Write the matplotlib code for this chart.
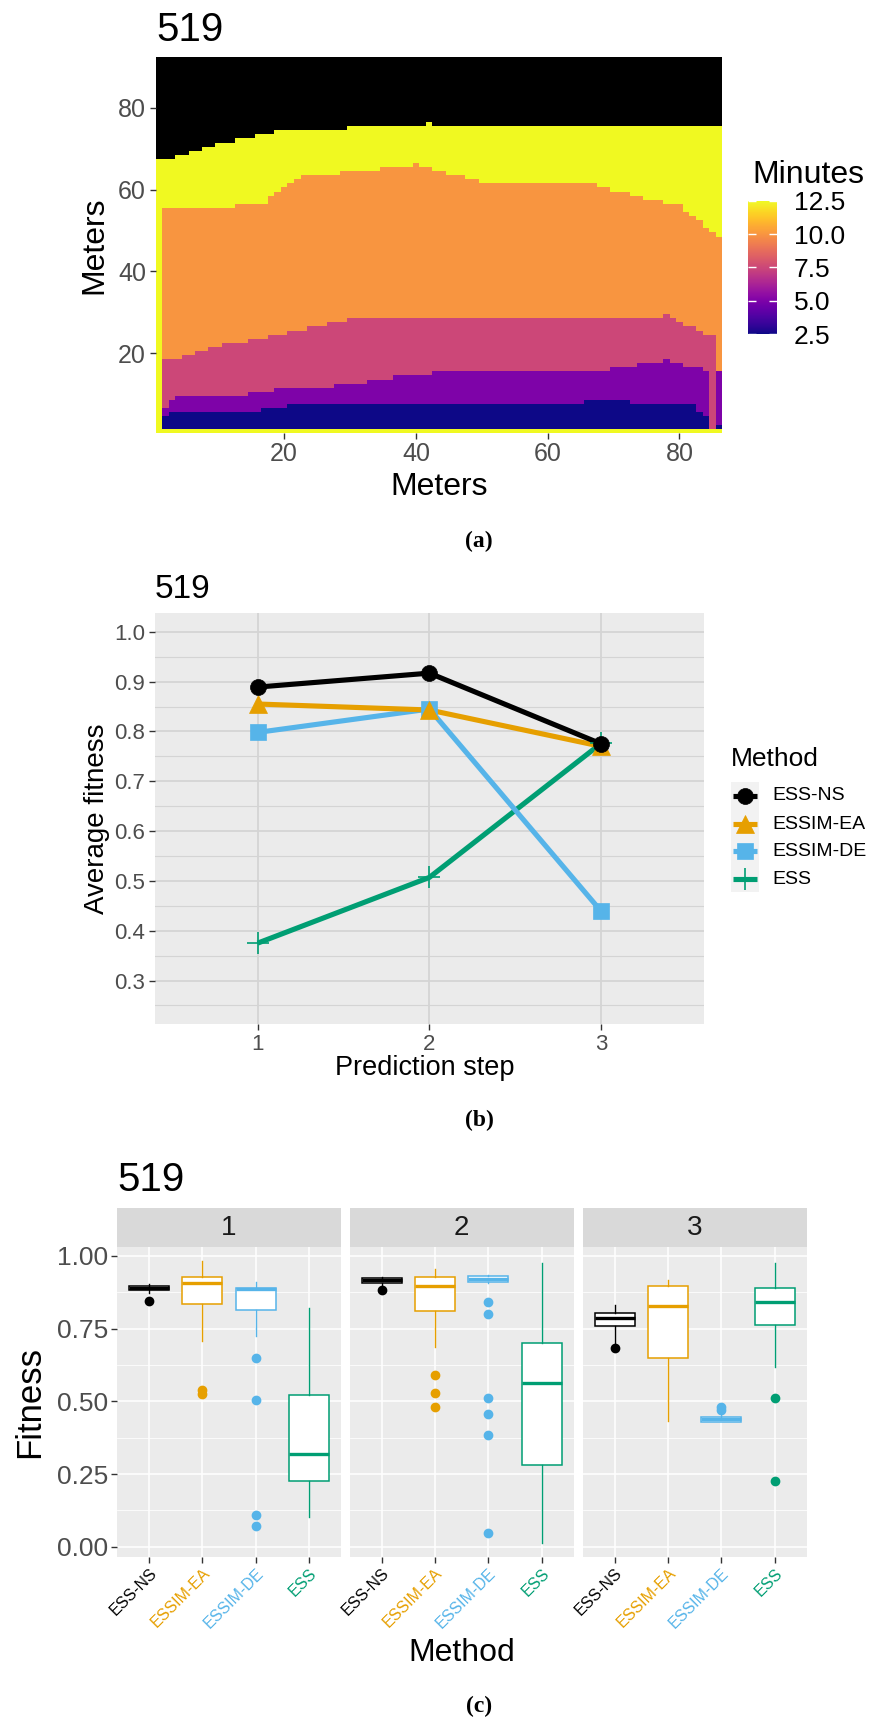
import numpy as np
import matplotlib
matplotlib.use('Agg')
import matplotlib.pyplot as plt
from matplotlib.patches import Rectangle
from matplotlib.cm import ScalarMappable
from matplotlib.colors import Normalize

plt.rcParams['font.family'] = ['Liberation Sans', 'DejaVu Sans']

# ---------------- data: panel (a) heatmap, band tops per column (cols 1..86) ----------------
band_minutes = [2.5, 5.0, 7.5, 10.0, 12.5]
bottom_row_minutes = 12.5
blue_top = [0, 4, 5, 5, 5, 5, 5, 5, 5, 5,
            5, 5, 5, 5, 5, 5, 6, 6, 6, 6,
            7, 7, 7, 7, 7, 7, 7, 7, 7, 7,
            7, 7, 7, 7, 7, 7, 7, 7, 7, 7,
            7, 7, 7, 7, 7, 7, 7, 7, 7, 7,
            7, 7, 7, 7, 7, 7, 7, 7, 7, 7,
            7, 7, 7, 7, 7, 8, 8, 8, 8, 8,
            8, 8, 7, 7, 7, 7, 7, 7, 7, 7,
            7, 7, 5, 4, 1, 2]
purple_top = [0, 6, 8, 9, 9, 9, 9, 9, 9, 9,
              9, 9, 9, 9, 10, 10, 10, 10, 11, 11,
              11, 11, 11, 11, 11, 11, 11, 12, 12, 12,
              12, 12, 13, 13, 13, 13, 14, 14, 14, 14,
              14, 14, 15, 15, 15, 15, 15, 15, 15, 15,
              15, 15, 15, 15, 15, 15, 15, 15, 15, 15,
              15, 15, 15, 15, 15, 15, 15, 15, 15, 16,
              16, 16, 16, 17, 17, 17, 17, 18, 17, 17,
              16, 16, 16, 15, 1, 15]
pink_top = [0, 18, 18, 18, 19, 19, 20, 20, 21, 21,
            22, 22, 22, 22, 23, 23, 23, 24, 24, 24,
            25, 25, 25, 26, 26, 26, 27, 27, 27, 28,
            28, 28, 28, 28, 28, 28, 28, 28, 28, 28,
            28, 28, 28, 28, 28, 28, 28, 28, 28, 28,
            28, 28, 28, 28, 28, 28, 28, 28, 28, 28,
            28, 28, 28, 28, 28, 28, 28, 28, 28, 28,
            28, 28, 28, 28, 28, 28, 28, 29, 28, 27,
            26, 26, 25, 24, 24, 15]
orange_top = [0, 55, 55, 55, 55, 55, 55, 55, 55, 55,
              55, 55, 56, 56, 56, 56, 56, 58, 59, 60,
              61, 62, 63, 63, 63, 63, 63, 63, 64, 64,
              64, 64, 64, 64, 65, 65, 65, 65, 65, 66,
              65, 65, 64, 64, 63, 63, 63, 62, 62, 61,
              61, 61, 61, 61, 61, 61, 61, 61, 61, 61,
              61, 61, 61, 61, 61, 61, 61, 60, 60, 59,
              59, 59, 58, 58, 57, 57, 57, 56, 56, 56,
              54, 53, 52, 50, 49, 48]
yellow_top = [67, 67, 67, 68, 68, 69, 69, 70, 70, 71,
              71, 71, 72, 72, 72, 73, 73, 73, 74, 74,
              74, 74, 74, 74, 74, 74, 74, 74, 74, 75,
              75, 75, 75, 75, 75, 75, 75, 75, 75, 75,
              75, 76, 75, 75, 75, 75, 75, 75, 75, 75,
              75, 75, 75, 75, 75, 75, 75, 75, 75, 75,
              75, 75, 75, 75, 75, 75, 75, 75, 75, 75,
              75, 75, 75, 75, 75, 75, 75, 75, 75, 75,
              75, 75, 75, 75, 75, 75]
n_cols, n_rows = 86, 92
meter_ticks = [20, 40, 60, 80]
minutes_ticks = [2.5, 5.0, 7.5, 10.0, 12.5]
minutes_labels = ['2.5', '5.0', '7.5', '10.0', '12.5']

# ---------------- data: panel (b) ----------------
steps = [1, 2, 3]
methods = ['ESS-NS', 'ESSIM-EA', 'ESSIM-DE', 'ESS']
avg_ess_ns = [0.889, 0.917, 0.775]
avg_essim_ea = [0.855, 0.843, 0.770]
avg_essim_de = [0.798, 0.845, 0.439]
avg_ess = [0.375, 0.507, 0.776]
b_yticks = [0.3, 0.4, 0.5, 0.6, 0.7, 0.8, 0.9, 1.0]
b_yminor = [0.25, 0.35, 0.45, 0.55, 0.65, 0.75, 0.85, 0.95]

# ---------------- data: panel (c) boxplots [step][method] ----------------
box_med = [[0.889, 0.906, 0.885, 0.318],
           [0.916, 0.898, 0.920, 0.564],
           [0.788, 0.827, 0.439, 0.840]]
box_q1 = [[0.882, 0.833, 0.813, 0.227],
          [0.907, 0.809, 0.909, 0.282],
          [0.758, 0.648, 0.428, 0.762]]
box_q3 = [[0.896, 0.927, 0.890, 0.520],
          [0.924, 0.927, 0.932, 0.701],
          [0.802, 0.895, 0.447, 0.891]]
box_lo = [[0.871, 0.709, 0.725, 0.103],
          [0.895, 0.688, 0.906, 0.014],
          [0.693, 0.432, 0.428, 0.619]]
box_hi = [[0.904, 0.984, 0.911, 0.822],
          [0.928, 0.954, 0.935, 0.974],
          [0.830, 0.916, 0.460, 0.977]]
box_out = [[[0.846], [0.540, 0.525], [0.650, 0.506, 0.109, 0.072], []],
           [[0.882], [0.591, 0.530, 0.479], [0.843, 0.800, 0.513, 0.458, 0.383, 0.048], []],
           [[0.685], [], [0.480, 0.470], [0.512, 0.225]]]
c_yticks = [0.0, 0.25, 0.5, 0.75, 1.0]
c_ylabels = ['0.00', '0.25', '0.50', '0.75', '1.00']
c_yminor = [0.125, 0.375, 0.625, 0.875]
step_labels = ['1', '2', '3']

method_colors = ['#000000', '#E69F00', '#56B4E9', '#009E73']
method_markers = ['o', '^', 's', '+']
method_ms = [11.5, 12.5, 11, 16]

# ---------------- figure helpers ----------------
W, H = 874, 1722
fig = plt.figure(figsize=(W / 100, H / 100), dpi=100)


def px_axes(l, t, r, b):
    return fig.add_axes([l / W, 1 - b / H, (r - l) / W, (b - t) / H])


def ftext(x, y, s, **kw):
    return fig.text(x / W, 1 - y / H, s, **kw)


TICK_C = '#4D4D4D'
TICKMARK_C = '#333333'
SERIF = ['Liberation Serif', 'DejaVu Serif']

# ================= panel (a) =================
ax_a = px_axes(155.7, 56.7, 722.3, 432.7)
Z = np.full((n_rows, n_cols), np.nan)
for j in range(n_cols):
    tops = [blue_top[j], purple_top[j], pink_top[j], orange_top[j], yellow_top[j]]
    for i in range(n_rows):
        r = i + 1
        if r == 1:
            Z[i, j] = bottom_row_minutes
            continue
        for k, t in enumerate(tops):
            if r <= t:
                Z[i, j] = band_minutes[k]
                break
cmap = plt.get_cmap('plasma').copy()
cmap.set_bad('black')
norm = Normalize(vmin=min(minutes_ticks), vmax=max(minutes_ticks))
ax_a.pcolormesh(np.arange(0.5, n_cols + 1), np.arange(0.5, n_rows + 1), np.ma.masked_invalid(Z),
                cmap=cmap, norm=norm, shading='flat', edgecolors='face', linewidth=0)
ax_a.set_xlim(0.5, n_cols + 0.5)
ax_a.set_ylim(0.5, n_rows + 0.5)
for s in ax_a.spines.values():
    s.set_visible(False)
ax_a.set_xticks(meter_ticks)
ax_a.set_yticks(meter_ticks)
ax_a.tick_params(length=4, width=1, color=TICKMARK_C, labelsize=18, labelcolor=TICK_C, pad=3)
ftext(156, 41.3, '519', fontsize=29, ha='left', va='baseline')
ftext(439, 495, 'Meters', fontsize=23, ha='center', va='baseline')
ftext(94.5, 245, 'Meters', fontsize=23, ha='center', va='center', rotation=90)

# colourbar
cax = px_axes(748, 201, 777, 334)
cb = fig.colorbar(ScalarMappable(norm=norm, cmap=plt.get_cmap('plasma')), cax=cax, ticks=minutes_ticks)
cb.outline.set_visible(False)
cb.set_ticklabels(minutes_labels)
cax.tick_params(which='both', direction='in', left=True, right=True, color='white',
                length=5.5, width=1, labelsize=19, labelcolor='black', pad=12)
cax.minorticks_off()
ftext(752, 183, 'Minutes', fontsize=23, ha='left', va='baseline')

ftext(479, 541, '(a)', fontsize=17, ha='center', va='center', family=SERIF, weight='bold')

# ================= panel (b) =================
ax_b = px_axes(154.6, 613.1, 704.2, 1024.1)
ax_b.set_facecolor('#EBEBEB')
ax_b.set_xlim(0.4, 3.6)
ax_b.set_ylim(0.2125, 1.0375)
ax_b.set_xticks(steps)
ax_b.set_xticklabels([str(s) for s in steps])
ax_b.set_yticks(b_yticks)
ax_b.set_yticklabels(['%.1f' % v for v in b_yticks])
ax_b.set_yticks(b_yminor, minor=True)
ax_b.grid(which='major', color='#D4D4D4', linewidth=1.3)
ax_b.grid(which='minor', axis='y', color='#D4D4D4', linewidth=0.8)
ax_b.set_axisbelow(True)
for s in ax_b.spines.values():
    s.set_visible(False)
ax_b.tick_params(which='major', length=4, width=1, color=TICKMARK_C, labelsize=16, labelcolor=TICK_C, pad=3)
ax_b.tick_params(which='minor', length=0)

avg_series = [avg_ess_ns, avg_essim_ea, avg_essim_de, avg_ess]
for k in reversed(range(4)):
    ax_b.plot(steps, avg_series[k], color=method_colors[k], linewidth=3.7, zorder=2 + 0.1 * (4 - k),
              solid_capstyle='butt')
for k in reversed(range(4)):
    ax_b.plot(steps, avg_series[k], linestyle='none', marker=method_markers[k], markersize=method_ms[k],
              color=method_colors[k], markeredgewidth=1.2 if method_markers[k] == '+' else 0.5,
              zorder=3 + 0.1 * (4 - k))

ftext(155, 598, '519', fontsize=24, ha='left', va='baseline')
ftext(425, 1075, 'Prediction step', fontsize=19.5, ha='center', va='baseline')
ftext(96.5, 818.6, 'Average fitness', fontsize=20, ha='center', va='center', rotation=90)

# legend (b)
ftext(731, 766, 'Method', fontsize=19, ha='left', va='baseline')
key_y = [796, 824, 851.5, 879.5]
ax_leg = px_axes(731, 781.5, 759, 892)
ax_leg.set_xlim(731, 759)
ax_leg.set_ylim(892, 781.5)
ax_leg.axis('off')
ax_leg.add_patch(Rectangle((731, 781.5), 28, 110.5, facecolor='#F2F2F2', edgecolor='none', zorder=0))
for k in range(4):
    yk = key_y[k]
    ax_leg.plot([733, 757], [yk, yk], color=method_colors[k], linewidth=3.7, solid_capstyle='butt', zorder=2)
    ax_leg.plot([745], [yk], marker=method_markers[k], markersize=method_ms[k], color=method_colors[k],
                markeredgewidth=1.2 if method_markers[k] == '+' else 0.5, linestyle='none', zorder=3)
    ftext(772, yk, methods[k], fontsize=14, ha='left', va='center')

ftext(479, 1120, '(b)', fontsize=17, ha='center', va='center', family=SERIF, weight='bold')

# ================= panel (c) =================
facet_x = [(117.0, 341.0), (349.5, 573.7), (582.7, 806.7)]
strip_top, panel_top, panel_bot = 1208.3, 1246.9, 1556.7
positions = [1, 2, 3, 4]
for f, (l, r) in enumerate(facet_x):
    ax = px_axes(l, panel_top, r, panel_bot)
    ax.set_facecolor('#EBEBEB')
    ax.set_xlim(0.4, 4.6)
    ax.set_ylim(-0.0344, 1.031)
    ax.set_yticks(c_yticks)
    ax.set_yticks(c_yminor, minor=True)
    ax.set_xticks(positions)
    ax.grid(which='major', color='white', linewidth=1.1)
    ax.grid(which='minor', axis='y', color='white', linewidth=0.55)
    ax.set_axisbelow(True)
    for s in ax.spines.values():
        s.set_visible(False)
    ax.tick_params(which='minor', length=0)
    if f == 0:
        ax.set_yticklabels(c_ylabels)
        ax.tick_params(axis='y', which='major', length=4, width=1, color=TICKMARK_C, labelsize=19,
                       labelcolor=TICK_C, pad=2.5)
    else:
        ax.tick_params(axis='y', which='major', length=0, labelleft=False)
    ax.set_xticklabels(methods, rotation=45, ha='right', va='top', rotation_mode='anchor')
    ax.tick_params(axis='x', which='major', length=4, width=1, color=TICKMARK_C, labelsize=11.5, pad=2.5)
    for lab, col in zip(ax.get_xticklabels(), method_colors):
        lab.set_color(col)
    for k in range(4):
        c = method_colors[k]
        st = [dict(med=box_med[f][k], q1=box_q1[f][k], q3=box_q3[f][k],
                   whislo=box_lo[f][k], whishi=box_hi[f][k], fliers=box_out[f][k])]
        ax.bxp(st, positions=[positions[k]], widths=0.75, patch_artist=True, showcaps=False,
               boxprops=dict(facecolor='white', edgecolor=c, linewidth=1.1),
               medianprops=dict(color=c, linewidth=2.4, solid_capstyle='butt'),
               whiskerprops=dict(color=c, linewidth=1.0),
               flierprops=dict(marker='o', markerfacecolor=c, markeredgecolor=c, markersize=6),
               manage_ticks=False, zorder=3)
    sax = px_axes(l, strip_top, r, panel_top)
    sax.set_facecolor('#D9D9D9')
    sax.set_xticks([])
    sax.set_yticks([])
    for s in sax.spines.values():
        s.set_visible(False)
    sax.text(0.5, 0.5, step_labels[f], transform=sax.transAxes, ha='center', va='center',
             fontsize=20, color='#1A1A1A')

ftext(117.5, 1190.6, '519', fontsize=29, ha='left', va='baseline')
ftext(462, 1661, 'Method', fontsize=23, ha='center', va='baseline')
ftext(29.5, 1401.8, 'Fitness', fontsize=25, ha='center', va='center', rotation=90)
ftext(479, 1706, '(c)', fontsize=17, ha='center', va='center', family=SERIF, weight='bold')

fig.savefig('out.png', dpi=100, facecolor='white')
